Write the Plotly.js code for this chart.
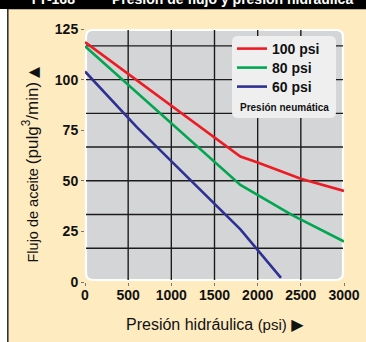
<!DOCTYPE html>
<html><head><meta charset="utf-8">
<script src="https://cdn.plot.ly/plotly-3.0.1.min.js"></script>
<style>html,body{margin:0;padding:0;background:#fff;}#chart{width:366px;height:342px;}</style>
</head><body><div id="chart"></div>
<script>
// ---- data ----
const seriesNames = ['100 psi', '80 psi', '60 psi'];
const seriesColors = ['#EC1C24', '#00A650', '#2E3192'];
const pressure100 = [0, 1800, 2000, 2500, 3000];
const flow100 = [118.5, 62, 59, 51, 45];
const pressure80 = [0, 1800, 2400, 3000];
const flow80 = [116.5, 48, 33, 20];
const pressure60 = [0, 600, 1800, 2270];
const flow60 = [104, 76.5, 26, 2];
const xTickVals = [0, 500, 1000, 1500, 2000, 2500, 3000];
const yTickVals = [0, 25, 50, 75, 100, 125];
const xGridVals = [500, 1000, 1500, 2000, 2500];
const yGridVals = [50/3, 100/3, 50, 200/3, 250/3, 100, 350/3];
const titleCode = 'YY-168';
const titleText = 'Presión de flujo y presión hidráulica';
const TRI = s => '<span style="font-family:\'DejaVu Sans\'">' + s + '</span>';
const xTitle = 'Presión hidráulica <span style="font-size:15px">(psi)</span> ' + TRI('▶');
const yTitle = 'Flujo de aceite <span style="font-size:17px">(pulg<sup>3</sup>/min)</span> ' + TRI('▲');
const legendNote = 'Presión neumática';

// ---- layout helpers ----
const L = 85, T = 29, W = 259, H = 253, FW = 366, FH = 342;
const px = p => (p - L) / W;
const py = p => (T + H - p) / H;
function roundRect(x0, y0, x1, y1, r) {
  const P = (x, y) => px(x).toFixed(5) + ',' + py(y).toFixed(5);
  return 'M' + P(x0 + r, y0) + ' L' + P(x1 - r, y0) + ' Q' + P(x1, y0) + ' ' + P(x1, y0 + r) +
    ' L' + P(x1, y1 - r) + ' Q' + P(x1, y1) + ' ' + P(x1 - r, y1) +
    ' L' + P(x0 + r, y1) + ' Q' + P(x0, y1) + ' ' + P(x0, y1 - r) +
    ' L' + P(x0, y0 + r) + ' Q' + P(x0, y0) + ' ' + P(x0 + r, y0) + ' Z';
}

const FONT = '"Liberation Sans", Arial, sans-serif';
const xs = [pressure100, pressure80, pressure60];
const ys = [flow100, flow80, flow60];
const legendIds = ['legend', 'legend2', 'legend3'];
const legendRows = [49, 68, 87];
const traces = seriesNames.map((n, i) => ({
  type: 'scatter', mode: 'lines', name: n, x: xs[i], y: ys[i], legend: legendIds[i],
  line: {color: seriesColors[i], width: 2.6}, hoverinfo: 'skip'
}));

const GRID = '#1c1c1c';
const gridShapes = [].concat(
  xGridVals.map(v => ({type: 'line', xref: 'x', yref: 'paper', layer: 'below', x0: v, x1: v, y0: py(280), y1: py(30),
    line: {color: GRID, width: 1.4}})),
  yGridVals.map(v => ({type: 'line', xref: 'paper', yref: 'y', layer: 'below', x0: px(86), x1: px(343), y0: v, y1: v,
    line: {color: GRID, width: 1.4}}))
);

const layout = {
  width: FW, height: FH,
  margin: {l: L, r: FW - L - W, t: T, b: FH - T - H, pad: 0},
  paper_bgcolor: '#FEEBC0', plot_bgcolor: 'rgba(0,0,0,0)',
  showlegend: true,
  font: {family: FONT, color: '#111'},
  xaxis: {range: [0, 3000], tickvals: xTickVals, showgrid: false, zeroline: false, showline: false,
    ticks: 'outside', ticklen: 3, tickcolor: '#777', tickwidth: 1, ticklabelstandoff: -3,
    tickfont: {family: FONT, size: 14, color: '#111', weight: 'bold'}, fixedrange: true},
  yaxis: {range: [0, 125], tickvals: yTickVals, showgrid: false, zeroline: false, showline: false,
    ticks: 'outside', ticklen: 3, tickcolor: '#777', tickwidth: 1,
    tickfont: {family: FONT, size: 14, color: '#111', weight: 'bold'}, fixedrange: true},
  shapes: [
    {type: 'path', xref: 'paper', yref: 'paper', layer: 'below', path: roundRect(86, 30, 343, 280, 7),
      fillcolor: '#D4D5D7', line: {color: '#FFFFFF', width: 2.2}},
    ...gridShapes,
    {type: 'path', xref: 'paper', yref: 'paper', layer: 'above', path: roundRect(232, 36, 336, 118, 6),
      fillcolor: '#EFEFF0', line: {width: 0}},
    {type: 'rect', xref: 'paper', yref: 'paper', layer: 'below', x0: px(-2), x1: px(FW + 2), y0: py(9.3), y1: py(-2),
      fillcolor: '#000', line: {width: 0}},
    {type: 'rect', xref: 'paper', yref: 'paper', layer: 'below', x0: px(-2), x1: px(7), y0: py(FH + 2), y1: py(9),
      fillcolor: '#FFFFFF', line: {width: 0}},
    {type: 'rect', xref: 'paper', yref: 'paper', layer: 'below', x0: px(7), x1: px(8.6), y0: py(FH + 2), y1: py(9),
      fillcolor: '#333', line: {width: 0}}
  ],
  annotations: [
    {text: titleCode, xref: 'paper', yref: 'paper', x: px(27), y: py(9.2), xanchor: 'left', yanchor: 'bottom',
      showarrow: false, font: {family: FONT, size: 14, color: '#fff', weight: 'bold'}},
    {text: titleText, xref: 'paper', yref: 'paper', x: px(110), y: py(9.2), xanchor: 'left', yanchor: 'bottom',
      showarrow: false, font: {family: FONT, size: 14, color: '#fff', weight: 'bold'}},
    {text: legendNote, xref: 'paper', yref: 'paper', x: px(284), y: py(107.5), xanchor: 'center', yanchor: 'middle',
      showarrow: false, font: {family: FONT, size: 10, color: '#111', weight: 'bold'}},
    {text: xTitle, xref: 'paper', yref: 'paper', x: px(214.5), y: py(324.5), xanchor: 'center', yanchor: 'middle',
      showarrow: false, font: {family: FONT, size: 16, color: '#111'}},
    {text: yTitle, xref: 'paper', yref: 'paper', x: px(30), y: py(164.5), xanchor: 'center', yanchor: 'middle',
      textangle: -90, showarrow: false, font: {family: FONT, size: 14.5, color: '#111'}}
  ]
};
legendIds.forEach((id, i) => {
  layout[id] = {x: px(232), y: py(legendRows[i]), xanchor: 'left', yanchor: 'middle', bgcolor: 'rgba(0,0,0,0)',
    font: {family: FONT, size: 14, color: '#111', weight: 'bold'}, itemclick: false, itemdoubleclick: false};
});

Plotly.newPlot('chart', traces, layout, {displayModeBar: false, staticPlot: true});
</script>
</body></html>
